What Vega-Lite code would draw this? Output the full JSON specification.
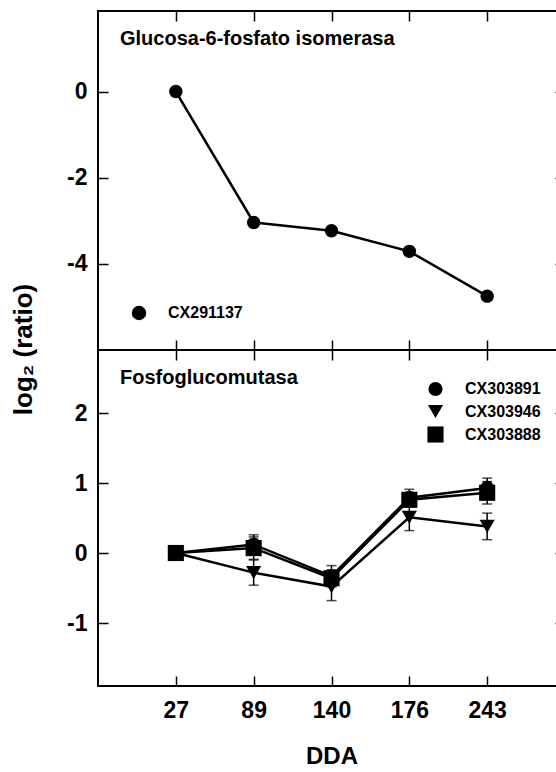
{
  "$schema": "https://vega.github.io/schema/vega-lite/v6.json",
  "autosize": {"type": "pad"},
  "padding": {"left": 9, "top": 9, "right": 0, "bottom": 0},
  "background": "white",
  "datasets": {
    "top": [
      {"DDA": 27, "series": "CX291137", "value": 0},
      {"DDA": 89, "series": "CX291137", "value": -3.04},
      {"DDA": 140, "series": "CX291137", "value": -3.23},
      {"DDA": 176, "series": "CX291137", "value": -3.71},
      {"DDA": 243, "series": "CX291137", "value": -4.75}
    ],
    "bottom": [
      {"DDA": 27, "series": "CX303891", "value": 0, "err": 0.05},
      {"DDA": 89, "series": "CX303891", "value": 0.12, "err": 0.14},
      {"DDA": 140, "series": "CX303891", "value": -0.33, "err": 0.15},
      {"DDA": 176, "series": "CX303891", "value": 0.79, "err": 0.12},
      {"DDA": 243, "series": "CX303891", "value": 0.93, "err": 0.14},
      {"DDA": 27, "series": "CX303946", "value": 0, "err": 0.04},
      {"DDA": 89, "series": "CX303946", "value": -0.28, "err": 0.18},
      {"DDA": 140, "series": "CX303946", "value": -0.48, "err": 0.2},
      {"DDA": 176, "series": "CX303946", "value": 0.51, "err": 0.19},
      {"DDA": 243, "series": "CX303946", "value": 0.38, "err": 0.19},
      {"DDA": 27, "series": "CX303888", "value": 0, "err": 0.04},
      {"DDA": 89, "series": "CX303888", "value": 0.07, "err": 0.16},
      {"DDA": 140, "series": "CX303888", "value": -0.36, "err": 0.12},
      {"DDA": 176, "series": "CX303888", "value": 0.76, "err": 0.1},
      {"DDA": 243, "series": "CX303888", "value": 0.86, "err": 0.16}
    ]
  },
  "vconcat": [
    {
      "width": 467,
      "height": 339,
      "data": {"name": "top"},
      "title": {"text": "Glucosa-6-fosfato isomerasa", "anchor": "start", "frame": "group", "offset": 0, "dx": 22, "dy": 54.5, "baseline": "alphabetic", "fontSize": 20, "fontWeight": "bold", "font": "Liberation Sans", "color": "black"},
      "layer": [
        {
          "mark": {"type": "line", "color": "black", "strokeWidth": 2.5},
          "encoding": {
            "x": {"field": "DDA", "type": "ordinal", "scale": {"type": "point", "padding": 1}, "axis": {"orient": "bottom", "labels": false, "title": null}},
            "y": {"field": "value", "type": "quantitative", "scale": {"domain": [-6, 1.87], "nice": false, "zero": false}, "axis": {"orient": "left", "values": [-4, -2, 0], "labelExpr": "replace(datum.label, '−', '-')", "labelFont": "Liberation Sans", "labelFontWeight": "bold", "labelPadding": 21, "title": "log₂ (ratio)", "titleX": -75, "titleY": 338, "titleAngle": 270, "titleAlign": "center", "titleBaseline": "middle", "titleFontSize": 26, "titleFont": "Liberation Sans"}},
            "detail": {"field": "series"}
          }
        },
        {
          "mark": {"type": "point", "filled": true, "color": "black", "size": 180, "opacity": 1},
          "encoding": {
            "x": {"field": "DDA", "type": "ordinal", "scale": {"type": "point", "padding": 1}, "axis": {"orient": "top", "labels": false, "title": null}},
            "y": {"field": "value", "type": "quantitative", "scale": {"domain": [-6, 1.87], "nice": false, "zero": false}, "axis": {"orient": "right", "values": [-4, -2, 0], "labels": false, "title": null}},
            "shape": {"field": "series", "type": "nominal", "scale": {"domain": ["CX291137"], "range": ["circle"]}, "legend": {"orient": "none", "legendX": 33, "legendY": 294, "title": null}}
          }
        }
      ],
      "resolve": {"axis": {"x": "independent", "y": "independent"}}
    },
    {
      "width": 467,
      "height": 336,
      "data": {"name": "bottom"},
      "title": {"text": "Fosfoglucomutasa", "anchor": "start", "frame": "group", "offset": 0, "dx": 22, "dy": 54.5, "baseline": "alphabetic", "fontSize": 20, "fontWeight": "bold", "font": "Liberation Sans", "color": "black"},
      "layer": [
        {
          "mark": {"type": "errorbar", "color": "black", "thickness": 1.5, "ticks": {"size": 10, "color": "black", "thickness": 1.5}},
          "encoding": {
            "x": {"field": "DDA", "type": "ordinal", "scale": {"type": "point", "padding": 1}, "axis": null},
            "y": {"field": "value", "type": "quantitative", "scale": {"domain": [-1.9, 2.9], "nice": false, "zero": false}, "axis": null},
            "yError": {"field": "err"},
            "detail": {"field": "series"}
          }
        },
        {
          "mark": {"type": "line", "color": "black", "strokeWidth": 2.5},
          "encoding": {
            "x": {"field": "DDA", "type": "ordinal", "scale": {"type": "point", "padding": 1}, "axis": {"orient": "bottom", "labelAngle": 0, "labelFont": "Liberation Sans", "labelFontWeight": "bold", "labelPadding": 23, "title": "DDA", "titleFontSize": 24, "titleFont": "Liberation Sans", "titlePadding": 22}},
            "y": {"field": "value", "type": "quantitative", "scale": {"domain": [-1.9, 2.9], "nice": false, "zero": false}, "axis": {"orient": "left", "values": [-1, 0, 1, 2], "labelExpr": "replace(datum.label, '−', '-')", "labelFont": "Liberation Sans", "labelFontWeight": "bold", "labelPadding": 21, "title": null}},
            "detail": {"field": "series"}
          }
        },
        {
          "mark": {"type": "point", "filled": true, "color": "black", "opacity": 1},
          "encoding": {
            "x": {"field": "DDA", "type": "ordinal", "scale": {"type": "point", "padding": 1}, "axis": {"orient": "top", "labels": false, "title": null}},
            "y": {"field": "value", "type": "quantitative", "scale": {"domain": [-1.9, 2.9], "nice": false, "zero": false}, "axis": {"orient": "right", "values": [-1, 0, 1, 2], "labels": false, "title": null}},
            "shape": {"field": "series", "type": "nominal", "scale": {"domain": ["CX303891", "CX303946", "CX303888"], "range": ["circle", "triangle-down", "square"]}, "legend": {"orient": "none", "legendX": 329, "legendY": 31, "title": null}},
            "size": {"field": "series", "type": "nominal", "scale": {"domain": ["CX303891", "CX303946", "CX303888"], "range": [200, 260, 190]}, "legend": {"orient": "none", "legendX": 329, "legendY": 31, "title": null}}
          }
        }
      ],
      "resolve": {"axis": {"x": "independent", "y": "independent"}}
    }
  ],
  "spacing": 0,
  "bounds": "flush",
  "resolve": {"scale": {"shape": "independent", "size": "independent"}, "legend": {"shape": "independent", "size": "independent"}},
  "config": {
    "font": "Liberation Sans",
    "view": {"stroke": "black", "strokeWidth": 2},
    "axis": {
      "labelFont": "Liberation Sans",
      "labelFontSize": 23,
      "labelFontWeight": "bold",
      "labelColor": "black",
      "tickColor": "black",
      "tickSize": -10,
      "tickWidth": 1.5,
      "domain": false,
      "grid": false,
      "titleFont": "Liberation Sans",
      "titleFontWeight": "bold",
      "titleColor": "black"
    },
    "legend": {
      "labelFont": "Liberation Sans",
      "labelFontSize": 16,
      "labelFontWeight": "bold",
      "labelColor": "black",
      "symbolSize": 210,
      "symbolFillColor": "black",
      "symbolStrokeColor": "black",
      "symbolStrokeWidth": 0,
      "labelOffset": 21,
      "rowPadding": 6.5,
      "padding": 0
    }
  }
}
